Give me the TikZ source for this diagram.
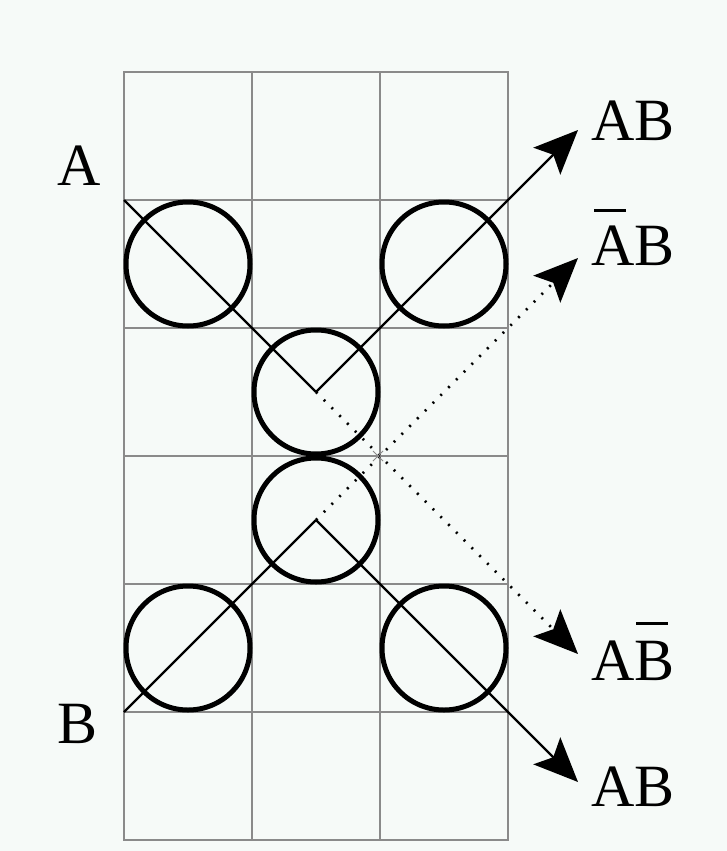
\documentclass[tikz,border=0pt]{standalone}
\usepackage{fontspec}
\setmainfont{Liberation Serif}
\usetikzlibrary{arrows.meta,calc}
\definecolor{bgc}{HTML}{F6FAF8}
\definecolor{gridc}{HTML}{8A8A8A}
\newcommand{\barA}{\rlap{\kern0.05em\raisebox{0.88em}{\rule{0.53em}{0.05em}}}A}
\newcommand{\barB}{\rlap{\kern0.03em\raisebox{0.92em}{\rule{0.52em}{0.05em}}}B}
\begin{document}
\begin{tikzpicture}[x=1pt,y=-1pt,
  ring/.style={circle,draw=black,line width=5pt,minimum size=124pt,inner sep=0pt},
  ray/.style={line width=2.2pt,black},
  dotray/.style={line width=2.5pt,black,dash pattern=on 2pt off 9pt},
  tip/.style={-{Stealth[length=44pt,width=38pt,inset=9pt]}},
  gridline/.style={gridc,line width=1.8pt},
  lbl/.style={font=\fontsize{60}{60}\selectfont,inner sep=0pt,anchor=base west}]
\fill[bgc] (0,0) rectangle (727,851);
\useasboundingbox (0,0) rectangle (727,851);
% grid
\foreach \gx in {124,252,380,508} \draw[gridline] (\gx,72) -- (\gx,840);
\foreach \gy in {72,200,328,456,584,712,840} \draw[gridline] (124,\gy) -- (508,\gy);
\draw[gridline] (124,72) rectangle (508,840);
% circles
\node[ring] (c1) at (188,264) {};
\node[ring] (c2) at (444,264) {};
\node[ring] (c3) at (316,392) {};
\node[ring] (c4) at (316,520) {};
\node[ring] (c5) at (188,648) {};
\node[ring] (c6) at (444,648) {};
% points
\coordinate (a0) at (124,200);
\coordinate (b0) at (124,712);
\coordinate (pa) at (316,392);
\coordinate (pb) at (316,520);
\coordinate (x) at (378,456);
\coordinate (t1) at (578,130);
\coordinate (t2) at (578,258);
\coordinate (t3) at (578,654);
\coordinate (t4) at (578,782);
% rays
\draw[ray] (a0) -- (pa);
\draw[ray,tip] (pa) -- (t1);
\draw[dotray,tip] (pa) -- (t3);
\draw[ray] (b0) -- (pb);
\draw[ray,tip] (pb) -- (t4);
\draw[dotray,tip] (pb) -- (t2);
% small cross at crossing
\draw[gridc,line width=1pt] ($(x)+(-5,-5)$) -- ($(x)+(5,5)$) ($(x)+(-5,5)$) -- ($(x)+(5,-5)$);
% labels
\node[lbl] (lA) at (57,185) {A};
\node[lbl] (lB) at (57,743) {B};
\node[lbl] (l1) at (591,140) {AB};
\node[lbl] (l2) at (591,265) {\barA B};
\node[lbl] (l3) at (591,680) {A\barB};
\node[lbl] (l4) at (591,806) {AB};
\end{tikzpicture}
\end{document}
